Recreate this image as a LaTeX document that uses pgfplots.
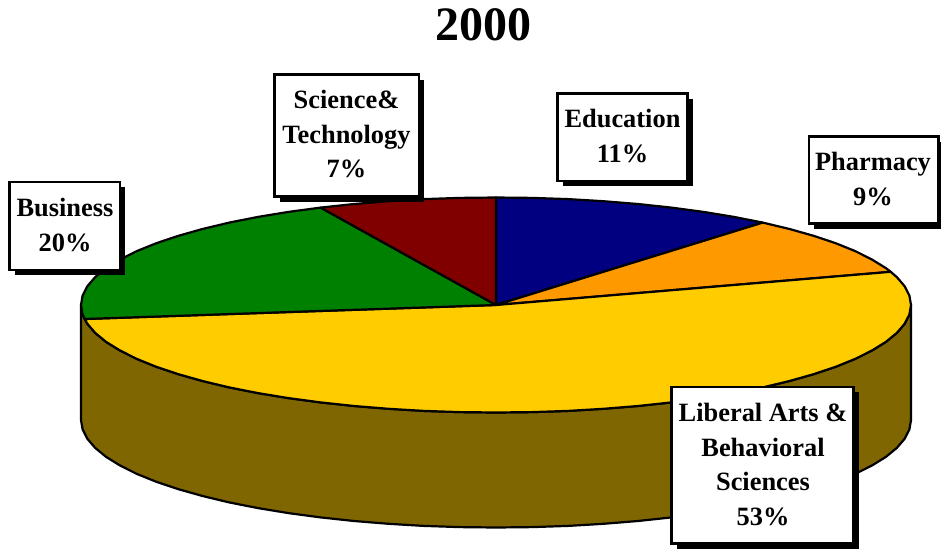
\documentclass[border=0pt]{standalone}
\usepackage{pgfplots}
\pgfplotsset{compat=1.18}
\usepackage{fontspec}
\setmainfont{Liberation Serif}
\definecolor{cside}{HTML}{806600}
\definecolor{cyel}{HTML}{FFCC00}
\definecolor{corg}{HTML}{FF9900}
\definecolor{cgrn}{HTML}{008000}
\definecolor{cred}{HTML}{800000}
\definecolor{cnav}{HTML}{000080}
\begin{document}
\begin{tikzpicture}
\begin{axis}[scale only axis,width=941pt,height=549pt,xmin=0,xmax=941,ymin=0,ymax=549,y dir=reverse,axis lines=none,clip=false]
\path (axis cs:0,0) rectangle (axis cs:941,549);
% side wall
\addplot[draw=black,line width=2.2pt,fill=cside,line join=round] coordinates {(911,305)(909.4,314.4)(904.7,323.7)(896.9,332.8)(886,341.8)(872.1,350.4)(855.4,358.8)(835.9,366.7)(813.9,374.1)(789.5,381)(762.8,387.4)(734,393.1)(703.5,398.1)(671.4,402.4)(637.9,406)(603.4,408.8)(568.1,410.9)(532.2,412.1)(496,412.5)(459.8,412.1)(423.9,410.9)(388.6,408.8)(354.1,406)(320.6,402.4)(288.5,398.1)(258,393.1)(229.2,387.4)(202.5,381)(178.1,374.1)(156.1,366.7)(136.6,358.8)(119.9,350.4)(106,341.8)(95.1,332.8)(87.3,323.7)(82.6,314.4)(81,305)
(81,420)(82.6,429.4)(87.3,438.7)(95.1,447.8)(106,456.8)(119.9,465.4)(136.6,473.8)(156.1,481.7)(178.1,489.1)(202.5,496)(229.2,502.4)(258,508.1)(288.5,513.1)(320.6,517.4)(354.1,521)(388.6,523.8)(423.9,525.9)(459.8,527.1)(496,527.5)(532.2,527.1)(568.1,525.9)(603.4,523.8)(637.9,521)(671.4,517.4)(703.5,513.1)(734,508.1)(762.8,502.4)(789.5,496)(813.9,489.1)(835.9,481.7)(855.4,473.8)(872.1,465.4)(886,456.8)(896.9,447.8)(904.7,438.7)(909.4,429.4)(911,420)} -- cycle;
% Education 11%
\addplot[draw=black,line width=2.2pt,fill=cnav,line join=round] coordinates {(496,305)(496,197.5)(532.2,197.9)(568.1,199.1)(603.4,201.2)(637.9,204)(671.4,207.6)(703.5,211.9)(734,216.9)(762.8,222.6)} -- cycle;
% Pharmacy 9%
\addplot[draw=black,line width=2.2pt,fill=corg,line join=round] coordinates {(496,305)(762.8,222.6)(789.5,229)(813.9,235.9)(835.9,243.3)(855.4,251.2)(872.1,259.6)(886,268.2)(890.7,271.8)} -- cycle;
% Liberal Arts 53%
\addplot[draw=black,line width=2.2pt,fill=cyel,line join=round] coordinates {(496,305)(890.7,271.8)(896.9,277.2)(904.7,286.3)(909.4,295.6)(911,305)(909.4,314.4)(904.7,323.7)(896.9,332.8)(886,341.8)(872.1,350.4)(855.4,358.8)(835.9,366.7)(813.9,374.1)(789.5,381)(762.8,387.4)(734,393.1)(703.5,398.1)(671.4,402.4)(637.9,406)(603.4,408.8)(568.1,410.9)(532.2,412.1)(496,412.5)(459.8,412.1)(423.9,410.9)(388.6,408.8)(354.1,406)(320.6,402.4)(288.5,398.1)(258,393.1)(229.2,387.4)(202.5,381)(178.1,374.1)(156.1,366.7)(136.6,358.8)(119.9,350.4)(106,341.8)(95.1,332.8)(87.3,323.7)(84.6,319)} -- cycle;
% Business 20%
\addplot[draw=black,line width=2.2pt,fill=cgrn,line join=round] coordinates {(496,305)(84.6,319)(82.6,314.4)(81,305)(82.6,295.6)(87.3,286.3)(95.1,277.2)(106,268.2)(119.9,259.6)(136.6,251.2)(156.1,243.3)(178.1,235.9)(202.5,229)(229.2,222.6)(258,216.9)(288.5,211.9)(320.6,207.6)} -- cycle;
% Science 7%
\addplot[draw=black,line width=2.2pt,fill=cred,line join=round] coordinates {(496,305)(320.6,207.6)(354.1,204)(388.6,201.2)(423.9,199.1)(459.8,197.9)(496,197.5)} -- cycle;
% title
\node[font=\fontsize{48}{50}\selectfont\bfseries,inner sep=0pt] at (axis cs:483.5,25) {2000};
% Business
\fill[black] (axis cs:14.5,187) rectangle (axis cs:125,275);
\draw[black,line width=2.6pt,fill=white] (axis cs:9.5,182) rectangle (axis cs:120,270);
\node[align=center,font=\fontsize{26.4}{34.5}\selectfont\bfseries,inner sep=0pt] at (axis cs:65,225) {Business\\20\%};
% Science
\fill[black] (axis cs:279.5,79.5) rectangle (axis cs:424,201.5);
\draw[black,line width=2.6pt,fill=white] (axis cs:274.5,74.5) rectangle (axis cs:419,196.5);
\node[align=center,font=\fontsize{26.4}{34.5}\selectfont\bfseries,inner sep=0pt] at (axis cs:346.5,134.5) {Science\&\\Technology\\7\%};
% Education
\fill[black] (axis cs:562.5,98.5) rectangle (axis cs:692.5,186);
\draw[black,line width=2.6pt,fill=white] (axis cs:557.5,93.5) rectangle (axis cs:687.5,181);
\node[align=center,font=\fontsize{26.4}{34.5}\selectfont\bfseries,inner sep=0pt] at (axis cs:622.5,136) {Education\\11\%};
% Pharmacy
\fill[black] (axis cs:814,141.5) rectangle (axis cs:941,228.5);
\draw[black,line width=2.6pt,fill=white] (axis cs:809,136.5) rectangle (axis cs:938.5,223.5);
\node[align=center,font=\fontsize{26.4}{34.5}\selectfont\bfseries,inner sep=0pt] at (axis cs:873,179) {Pharmacy\\9\%};
% Liberal Arts
\fill[black] (axis cs:676.5,392) rectangle (axis cs:858.5,548.5);
\draw[black,line width=2.6pt,fill=white] (axis cs:671.5,387) rectangle (axis cs:853.5,543.5);
\node[align=center,font=\fontsize{26.4}{34.5}\selectfont\bfseries,inner sep=0pt] at (axis cs:763,464.5) {Liberal Arts \&\\Behavioral\\Sciences\\53\%};
\end{axis}
\end{tikzpicture}
\end{document}
